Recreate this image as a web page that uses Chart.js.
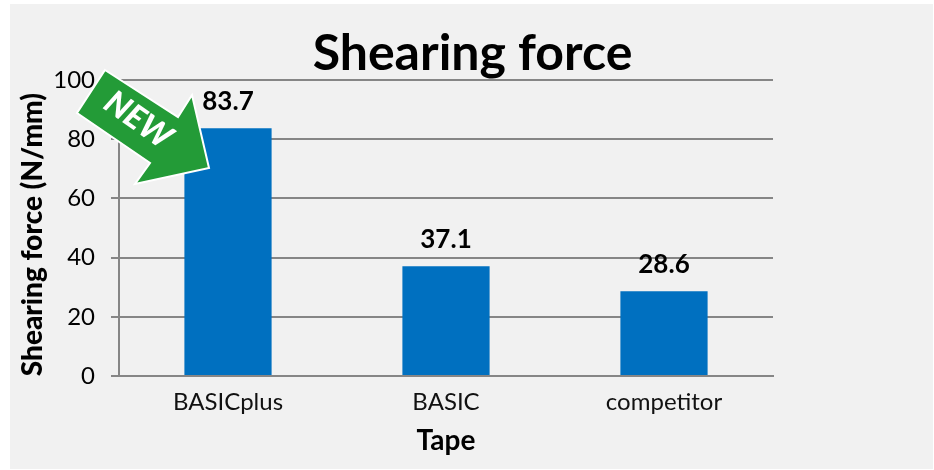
<!DOCTYPE html>
<html>
<head>
<meta charset="utf-8">
<style>
html, body { margin: 0; padding: 0; background: #fff; }
#wrap { width: 934px; height: 470px; }
</style>
<script src="https://cdn.jsdelivr.net/npm/chart.js@4/dist/chart.umd.min.js"></script>
</head>
<body>
<div id="wrap"><canvas id="myChart" width="934" height="470"></canvas></div>
<script>
const categories = ['BASICplus', 'BASIC', 'competitor'];
const shearingForce = [83.7, 37.1, 28.6];
const yTicks = [0, 20, 40, 60, 80, 100];

const fontName = 'Lato, "Open Sans", sans-serif';
const axisColor = '#868686';

// grey panel behind everything
const panelPlugin = {
    id: 'panel',
    beforeDraw: (chart) => {
        const c = chart.ctx;
        c.save();
        c.fillStyle = '#f1f1f1';
        c.fillRect(10, 4, 923, 465);
        c.restore();
    }
};

// value above each bar
const valueLabels = {
    id: 'valueLabels',
    afterDatasetsDraw: (chart) => {
        const c = chart.ctx;
        const meta = chart.getDatasetMeta(0);
        c.save();
        c.font = 'bold 26px ' + fontName;
        c.fillStyle = '#000';
        c.textAlign = 'center';
        c.textBaseline = 'middle';
        meta.data.forEach((bar, i) => {
            c.fillText(shearingForce[i].toFixed(1), bar.x, bar.y - 27);
        });
        c.restore();
    }
};

// green NEW arrow sitting on top of the chart
const newArrow = {
    id: 'newArrow',
    afterDraw: (chart) => {
        const c = chart.ctx;
        const pts = [[105, 70], [178, 117], [192, 95], [209, 168], [135, 184], [150, 163], [77, 113]];
        c.save();
        c.beginPath();
        pts.forEach((p, i) => i ? c.lineTo(p[0], p[1]) : c.moveTo(p[0], p[1]));
        c.closePath();
        c.fillStyle = '#239b37';
        c.strokeStyle = '#fff';
        c.lineWidth = 2;
        c.lineJoin = 'miter';
        c.fill();
        c.stroke();
        c.translate(138, 120);
        c.rotate(35 * Math.PI / 180);
        c.font = 'italic 900 33px ' + fontName;
        c.fillStyle = '#fff';
        c.textAlign = 'center';
        c.textBaseline = 'middle';
        c.fillText('NEW', 0, 0);
        c.restore();
    }
};

const ctx = document.getElementById('myChart').getContext('2d');

const myChart = new Chart(ctx, {
    type: 'bar',
    data: {
        labels: categories,
        datasets: [{
            data: shearingForce,
            backgroundColor: '#0070c0',
            barPercentage: 1,
            categoryPercentage: 0.4,
        }]
    },
    options: {
        responsive: false,
        animation: false,
        layout: {
            padding: { left: 11, top: 0, right: 0, bottom: 0 },
        },
        scales: {
            x: {
                grid: { display: false, drawTicks: false },
                border: { color: axisColor, width: 2 },
                ticks: { color: '#111', font: { family: fontName, size: 24 }, padding: 12 },
                title: {
                    display: true,
                    text: 'Tape',
                    color: '#000',
                    font: { family: fontName, size: 28, weight: 'bold' },
                    padding: { top: 0, bottom: 12 },
                },
                afterFit: (scale) => { scale.height = 94; },
            },
            y: {
                min: 0,
                max: 100,
                afterBuildTicks: (scale) => { scale.ticks = yTicks.map((v) => ({ value: v })); },
                grid: { color: axisColor, lineWidth: 2, tickLength: 8 },
                border: { color: axisColor, width: 2 },
                ticks: { color: '#000', font: { family: fontName, size: 24 }, padding: 16 },
                title: {
                    display: true,
                    // trailing spaces nudge the rotated title down to where it sits in the original
                    text: 'Shearing force (N/mm)  ',
                    color: '#000',
                    font: { family: fontName, size: 28, weight: '900' },
                    padding: { top: 5, bottom: 0 },
                },
                afterFit: (scale) => { scale.width = 108; },
            },
            // empty axis, only holds the plot away from the right edge
            spacer: {
                position: 'right',
                grid: { display: false, drawTicks: false },
                border: { display: false },
                ticks: { display: false },
                afterFit: (scale) => { scale.width = 161; },
            },
        },
        plugins: {
            legend: { display: false },
            tooltip: { enabled: false },
            title: {
                display: true,
                text: 'Shearing force',
                color: '#000',
                font: { family: fontName, size: 50, weight: 'bold', lineHeight: 1 },
                padding: { top: 29, bottom: 1 },
            },
        },
    },
    plugins: [panelPlugin, valueLabels, newArrow],
});
</script>
</body>
</html>
